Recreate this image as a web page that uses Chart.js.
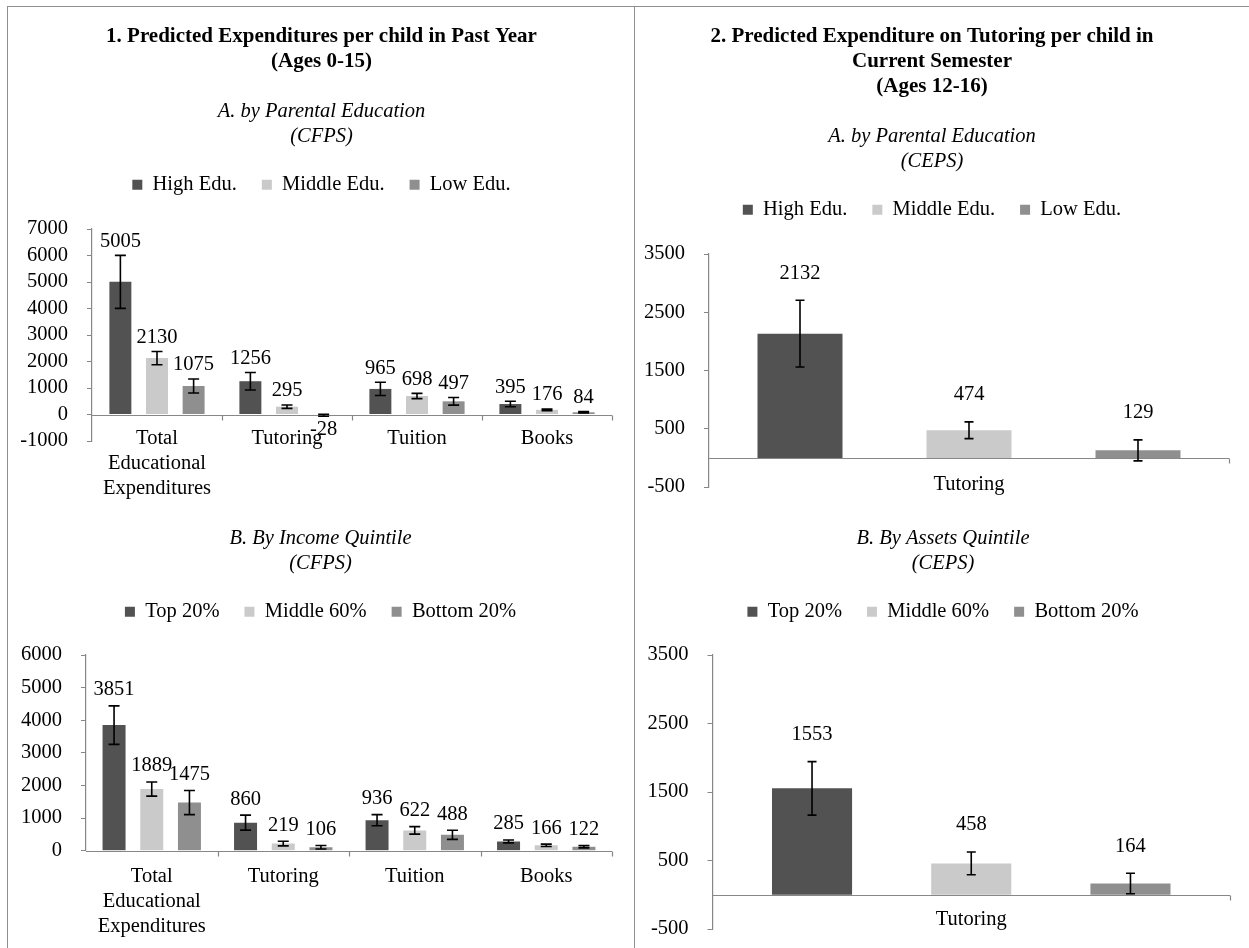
<!DOCTYPE html>
<html>
<head>
<meta charset="utf-8">
<title>Predicted Expenditures per child</title>
<script src="https://cdn.jsdelivr.net/npm/chart.js@4.4.1/dist/chart.umd.min.js"></script>
<style>
  html, body { margin: 0; padding: 0; background: #fff; }
  body { position: relative; width: 1249px; height: 948px; overflow: hidden; }
  .rule { position: absolute; background: #8f8f8f; }
  .panel { position: absolute; }
</style>
</head>
<body>
<div class="rule" style="left:7px; top:6px; width:1242px; height:1px;"></div>
<div class="rule" style="left:7px; top:6px; width:1px; height:942px;"></div>
<div class="rule" style="left:634px; top:6px; width:1px; height:942px;"></div>

<div class="panel" style="left:8px; top:7px; width:625px; height:501px;"><canvas id="cfpsEduChart"></canvas></div>
<div class="panel" style="left:635px; top:7px; width:614px; height:501px;"><canvas id="cepsEduChart"></canvas></div>
<div class="panel" style="left:8px; top:509px; width:625px; height:439px;"><canvas id="cfpsIncomeChart"></canvas></div>
<div class="panel" style="left:635px; top:509px; width:614px; height:439px;"><canvas id="cepsAssetsChart"></canvas></div>

<script>
const SERIF = "'Liberation Serif', 'Times New Roman', Times, serif";

// categories and groups
const cfpsCategories = [["Total", "Educational", "Expenditures"], "Tutoring", "Tuition", "Books"];
const cepsCategories = ["Tutoring"];
const eduGroups = ["High Edu.", "Middle Edu.", "Low Edu."];
const quintileGroups = ["Top 20%", "Middle 60%", "Bottom 20%"];

// 1A. CFPS, by parental education
const cfpsEduHigh = [5005, 1256, 965, 395];
const cfpsEduMiddle = [2130, 295, 698, 176];
const cfpsEduLow = [1075, -28, 497, 84];
const cfpsEduHighErr = [1000, 330, 250, 105];
const cfpsEduMiddleErr = [250, 65, 100, 30];
const cfpsEduLowErr = [265, 40, 145, 25];
const cfpsEduTicks = [-1000, 0, 1000, 2000, 3000, 4000, 5000, 6000, 7000];

// 1B. CFPS, by income quintile
const cfpsIncTop = [3851, 860, 936, 285];
const cfpsIncMiddle = [1889, 219, 622, 166];
const cfpsIncBottom = [1475, 106, 488, 122];
const cfpsIncTopErr = [590, 230, 170, 45];
const cfpsIncMiddleErr = [215, 70, 115, 35];
const cfpsIncBottomErr = [370, 55, 140, 35];
const cfpsIncTicks = [0, 1000, 2000, 3000, 4000, 5000, 6000];

// 2A. CEPS, by parental education
const cepsEduHigh = [2132];
const cepsEduMiddle = [474];
const cepsEduLow = [129];
const cepsEduHighErr = [573];
const cepsEduMiddleErr = [144];
const cepsEduLowErr = [180];
const cepsEduTicks = [-500, 500, 1500, 2500, 3500];

// 2B. CEPS, by assets quintile
const cepsAssetTop = [1553];
const cepsAssetMiddle = [458];
const cepsAssetBottom = [164];
const cepsAssetTopErr = [390];
const cepsAssetMiddleErr = [165];
const cepsAssetBottomErr = [150];
const cepsAssetTicks = [-500, 500, 1500, 2500, 3500];

const seriesColors = ["#525252", "#cacaca", "#8f8f8f"];
const axisGrey = "#878787";

Chart.defaults.font.family = SERIF;
Chart.defaults.font.size = 20.5;
Chart.defaults.color = "#000";

// push the plot area down a bit below the legend
function legendGap(gap) {
  return {
    id: "legendGap",
    beforeInit(chart) {
      const fit = chart.legend.fit;
      chart.legend.fit = function () {
        fit.call(this);
        this.height += gap;
      };
    },
  };
}

// tick labels may sit outside their scale box (x labels overlap the plot bottom)
const noLabelClip = {
  id: "noLabelClip",
  beforeDraw(chart) {
    Object.values(chart.scales).forEach((s) => {
      s._computeLabelArea = () => undefined;
    });
  },
};

// horizontal axis line at zero with category tick marks
const zeroAxis = {
  id: "zeroAxis",
  afterDatasetsDraw(chart) {
    const { ctx } = chart;
    const xs = chart.scales.x;
    const ys = chart.scales.y;
    const y0 = Math.round(ys.getPixelForValue(0)) + 0.5;
    const n = chart.data.labels.length;
    const step = (xs.right - xs.left) / n;
    ctx.save();
    ctx.strokeStyle = axisGrey;
    ctx.lineWidth = 1.2;
    ctx.beginPath();
    ctx.moveTo(xs.left, y0);
    ctx.lineTo(xs.right, y0);
    for (let i = 1; i <= n; i++) {
      const x = Math.round(xs.left + step * i) + 0.5;
      ctx.moveTo(x, y0);
      ctx.lineTo(x, y0 + 5);
    }
    ctx.stroke();
    ctx.restore();
  },
};

// error bars and value labels
function errorBars(labelGap, cap) {
  return {
    id: "errorBars",
    afterDatasetsDraw(chart) {
      const { ctx } = chart;
      const ys = chart.scales.y;
      ctx.save();
      chart.data.datasets.forEach((ds, di) => {
        const meta = chart.getDatasetMeta(di);
        meta.data.forEach((bar, i) => {
          const v = ds.data[i];
          const e = ds.errors[i];
          const yHi = ys.getPixelForValue(v + e);
          const yLo = ys.getPixelForValue(v - e);
          ctx.strokeStyle = "#000";
          ctx.lineWidth = 1.6;
          ctx.beginPath();
          ctx.moveTo(bar.x, yHi);
          ctx.lineTo(bar.x, yLo);
          ctx.moveTo(bar.x - cap, yHi);
          ctx.lineTo(bar.x + cap, yHi);
          ctx.moveTo(bar.x - cap, yLo);
          ctx.lineTo(bar.x + cap, yLo);
          ctx.stroke();

          ctx.fillStyle = "#000";
          ctx.font = "20.5px " + SERIF;
          ctx.textAlign = "center";
          ctx.textBaseline = "middle";
          const ly = v >= 0 ? yHi - labelGap : yLo + 13;
          ctx.fillText(String(v), bar.x, ly);
        });
      });
      ctx.restore();
    },
  };
}

function makeChart(id, cfg) {
  const datasets = cfg.series.map((s, i) => ({
    label: cfg.groups[i],
    data: s[0],
    errors: s[1],
    backgroundColor: seriesColors[i],
    borderWidth: 0,
    barPercentage: cfg.barPct,
    categoryPercentage: cfg.catPct,
  }));

  return new Chart(document.getElementById(id), {
    type: "bar",
    data: { labels: cfg.categories, datasets },
    options: {
      animation: false,
      responsive: true,
      maintainAspectRatio: false,
      devicePixelRatio: 1,
      events: [],
      layout: { padding: cfg.padding },
      plugins: {
        title: {
          display: !!cfg.title,
          text: cfg.title || "",
          color: "#000",
          font: { size: 21, weight: "bold", lineHeight: "25px" },
          padding: { top: 17.5, bottom: 25 },
        },
        subtitle: {
          display: true,
          text: cfg.subtitle,
          color: "#000",
          font: { size: 20.5, style: "italic", lineHeight: "25px" },
          padding: { top: cfg.title ? 0 : 17.5, bottom: 0 },
        },
        legend: {
          display: true,
          position: "top",
          labels: {
            boxWidth: 10,
            boxHeight: 10,
            padding: 25,
            color: "#000",
            font: { size: 20.5 },
          },
        },
        tooltip: { enabled: false },
      },
      scales: {
        x: {
          grid: { display: false, drawTicks: false },
          border: { display: false },
          ticks: {
            padding: cfg.xPad,
            autoSkip: false,
            maxRotation: 0,
            color: "#000",
            font: { size: 20.5, lineHeight: "25px" },
          },
          afterFit(scale) {
            scale.height = cfg.xHeight;
          },
        },
        y: {
          min: cfg.ticks[0],
          max: cfg.ticks[cfg.ticks.length - 1],
          afterBuildTicks(scale) {
            scale.ticks = cfg.ticks.map((v) => ({ value: v }));
          },
          grid: {
            drawOnChartArea: false,
            drawTicks: true,
            tickLength: 5,
            color: axisGrey,
          },
          border: { display: true, color: axisGrey, width: 1.2 },
          ticks: {
            padding: 19,
            autoSkip: false,
            color: "#000",
            font: { size: 20.5 },
            callback: (v) => String(v),
          },
          afterFit(scale) {
            scale.width = cfg.yWidth;
            scale.paddingTop = 0;
            scale.paddingBottom = 0;
          },
        },
      },
    },
    plugins: [legendGap(cfg.gap), noLabelClip, zeroAxis, errorBars(cfg.labelGap, cfg.cap)],
  });
}

makeChart("cfpsEduChart", {
  title: ["1. Predicted Expenditures per child in Past Year", "(Ages 0-15)"],
  subtitle: ["A. by Parental Education", "(CFPS)"],
  categories: cfpsCategories,
  groups: eduGroups,
  series: [
    [cfpsEduHigh, cfpsEduHighErr],
    [cfpsEduMiddle, cfpsEduMiddleErr],
    [cfpsEduLow, cfpsEduLowErr],
  ],
  ticks: cfpsEduTicks,
  padding: { left: 23, right: 21, top: 0, bottom: 0 },
  yWidth: 61,
  xHeight: 67,
  xPad: -14.5,
  gap: 24,
  barPct: 0.6,
  catPct: 0.845,
  labelGap: 14,
  cap: 5.5,
});

makeChart("cepsEduChart", {
  title: ["2. Predicted Expenditure on Tutoring per child in", "Current Semester", "(Ages 12-16)"],
  subtitle: ["A. by Parental Education", "(CEPS)"],
  categories: cepsCategories,
  groups: eduGroups,
  series: [
    [cepsEduHigh, cepsEduHighErr],
    [cepsEduMiddle, cepsEduMiddleErr],
    [cepsEduLow, cepsEduLowErr],
  ],
  ticks: cepsEduTicks,
  padding: { left: 0, right: 20, top: 0, bottom: 0 },
  yWidth: 74,
  xHeight: 21,
  xPad: -14.5,
  gap: 24,
  barPct: 0.503,
  catPct: 0.975,
  labelGap: 27,
  cap: 4.5,
});

makeChart("cfpsIncomeChart", {
  title: null,
  subtitle: ["B. By Income Quintile", "(CFPS)"],
  categories: cfpsCategories,
  groups: quintileGroups,
  series: [
    [cfpsIncTop, cfpsIncTopErr],
    [cfpsIncMiddle, cfpsIncMiddleErr],
    [cfpsIncBottom, cfpsIncBottomErr],
  ],
  ticks: cfpsIncTicks,
  padding: { left: 21, right: 21, top: 0, bottom: 0 },
  yWidth: 57,
  xHeight: 97.3,
  xPad: 13.5,
  gap: 23,
  barPct: 0.61,
  catPct: 0.86,
  labelGap: 16,
  cap: 5.5,
});

makeChart("cepsAssetsChart", {
  title: null,
  subtitle: ["B. By Assets Quintile", "(CEPS)"],
  categories: cepsCategories,
  groups: quintileGroups,
  series: [
    [cepsAssetTop, cepsAssetTopErr],
    [cepsAssetMiddle, cepsAssetMiddleErr],
    [cepsAssetBottom, cepsAssetBottomErr],
  ],
  ticks: cepsAssetTicks,
  padding: { left: 21, right: 19, top: 0, bottom: 0 },
  yWidth: 56.5,
  xHeight: 19,
  xPad: -21.5,
  gap: 23,
  barPct: 0.503,
  catPct: 0.923,
  labelGap: 27,
  cap: 4.5,
});
</script>
</body>
</html>
